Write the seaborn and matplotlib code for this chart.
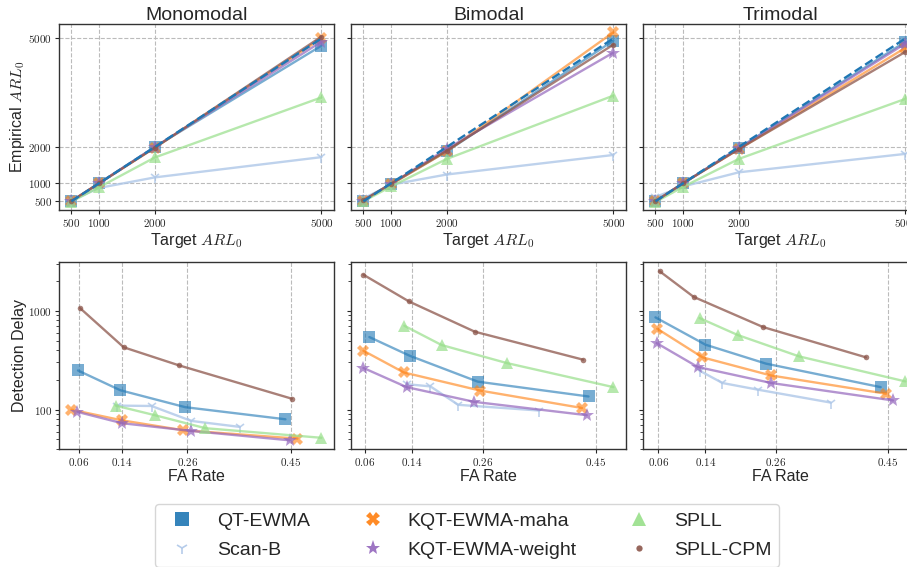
import pandas as pd
import seaborn as sns
import matplotlib.pyplot as plt
from matplotlib.lines import Line2D
from matplotlib.ticker import FixedLocator, FuncFormatter, NullFormatter

sns.set_style('ticks')
plt.rcParams['font.family'] = ['Liberation Sans', 'DejaVu Sans']
plt.rcParams['mathtext.fontset'] = 'cm'

methods = ['QT-EWMA', 'Scan-B', 'KQT-EWMA-maha', 'KQT-EWMA-weight', 'SPLL', 'SPLL-CPM']
panels = ['Monomodal', 'Bimodal', 'Trimodal']
arl_targets = [500, 1000, 2000, 5000]

# empirical ARL0 per panel, one list per method (same order as methods)
mono_arl = [[500, 1000, 2000, 4800], [520, 870, 1160, 1720], [500, 1000, 1980, 5000],
            [500, 1000, 2000, 4910], [490, 890, 1710, 3370], [510, 1000, 1980, 5050]]
bi_arl = [[520, 980, 1880, 4940], [580, 960, 1240, 1780], [520, 970, 1880, 5170],
          [520, 980, 1950, 4610], [500, 910, 1670, 3420], [530, 990, 1900, 4830]]
tri_arl = [[510, 1000, 1970, 4910], [620, 910, 1300, 1810], [500, 1000, 1940, 4740],
           [500, 1000, 1960, 4860], [480, 900, 1670, 3330], [500, 1000, 1940, 4630]]

# false alarm rate and detection delay
mono_fa = [[0.059, 0.137, 0.256, 0.440], [0.130, 0.194, 0.267, 0.356], [0.047, 0.140, 0.252, 0.462],
           [0.058, 0.140, 0.267, 0.448], [0.128, 0.200, 0.293, 0.506], [0.063, 0.143, 0.244, 0.452]]
mono_delay = [[249, 157, 106, 80], [110, 109, 77, 67], [100, 78, 62, 51],
              [95, 73, 61, 49], [110, 88, 65, 52], [1060, 427, 281, 129]]
bi_fa = [[0.068, 0.136, 0.251, 0.438], [0.131, 0.171, 0.218, 0.355], [0.058, 0.126, 0.255, 0.427],
         [0.058, 0.131, 0.245, 0.435], [0.127, 0.190, 0.300, 0.480], [0.058, 0.135, 0.246, 0.429]]
bi_delay = [[542, 351, 192, 136], [181, 172, 112, 98], [394, 238, 156, 104],
            [264, 169, 120, 88], [705, 450, 296, 169], [2310, 1240, 614, 320]]
tri_fa = [[0.055, 0.140, 0.243, 0.438], [0.130, 0.169, 0.230, 0.353], [0.058, 0.135, 0.251, 0.447],
          [0.057, 0.127, 0.252, 0.459], [0.130, 0.195, 0.299, 0.480], [0.062, 0.120, 0.238, 0.413]]
tri_delay = [[857, 454, 292, 169], [248, 186, 159, 118], [658, 338, 222, 145],
             [471, 270, 186, 124], [843, 568, 346, 193], [2510, 1380, 684, 338]]

fa_ticks = [0.06, 0.14, 0.26, 0.45]

colors = {'QT-EWMA': '#1f77b4', 'Scan-B': '#aec7e8', 'KQT-EWMA-maha': '#ff7f0e',
          'KQT-EWMA-weight': '#9467bd', 'SPLL': '#98df8a', 'SPLL-CPM': '#8c564b'}
markers = {'QT-EWMA': 's', 'Scan-B': '1', 'KQT-EWMA-maha': 'X',
           'KQT-EWMA-weight': '*', 'SPLL': '^', 'SPLL-CPM': '.'}
msizes = {'QT-EWMA': 9, 'Scan-B': 8, 'KQT-EWMA-maha': 9,
          'KQT-EWMA-weight': 10, 'SPLL': 9, 'SPLL-CPM': 8}
alphas = {'QT-EWMA': 0.6, 'Scan-B': 0.8, 'KQT-EWMA-maha': 0.6,
          'KQT-EWMA-weight': 0.7, 'SPLL': 0.7, 'SPLL-CPM': 0.75}


def marker_kws(m):
    # the tri marker is drawn only by its edge
    if m == 'Scan-B':
        return dict(markeredgewidth=1.2, markeredgecolor=colors[m])
    return dict(markeredgewidth=0)


top_rows = []
for panel, arl in zip(panels, [mono_arl, bi_arl, tri_arl]):
    for m, vals in zip(methods, arl):
        for t, v in zip(arl_targets, vals):
            top_rows.append({'panel': panel, 'method': m, 'target': t, 'empirical': v})
top_df = pd.DataFrame(top_rows)

bot_rows = []
for panel, fas, delays in zip(panels, [mono_fa, bi_fa, tri_fa], [mono_delay, bi_delay, tri_delay]):
    for m, f, d in zip(methods, fas, delays):
        for a, b in zip(f, d):
            bot_rows.append({'panel': panel, 'method': m, 'fa': a, 'delay': b})
bot_df = pd.DataFrame(bot_rows)

fig, axes = plt.subplots(2, 3, figsize=(9.07, 5.67), dpi=100, sharey='row')
fig.subplots_adjust(left=0.065, right=1.012, top=0.958, bottom=0.208, wspace=0.062, hspace=0.278)

tex = FuncFormatter(lambda v, p: f'${v:g}$')
tex2 = FuncFormatter(lambda v, p: f'${v:.2f}$')

for j, panel in enumerate(panels):
    ax = axes[0, j]
    sub = top_df[top_df['panel'] == panel]
    for m in methods:
        sns.lineplot(data=sub[sub['method'] == m], x='target', y='empirical', ax=ax,
                     color=colors[m], marker=markers[m], markersize=msizes[m],
                     alpha=alphas[m], linewidth=1.7, sort=False, **marker_kws(m))
    ax.plot(arl_targets, arl_targets, ls='--', color='#1f77b4', lw=1.7, zorder=5)
    ax.set_title(panel, fontsize=14, pad=3)
    ax.set_xlabel('Target $ARL_0$', fontsize=11.5, labelpad=1)
    ax.set_ylabel('Empirical $ARL_0$' if j == 0 else '', fontsize=11.5, labelpad=1)
    ax.set_xticks(arl_targets)
    ax.set_yticks(arl_targets)
    ax.xaxis.set_major_formatter(tex)
    ax.yaxis.set_major_formatter(tex)
    ax.grid(True, ls='--', color='#bbbbbb', lw=0.8)

    ax = axes[1, j]
    sub = bot_df[bot_df['panel'] == panel]
    for m in methods:
        sns.lineplot(data=sub[sub['method'] == m], x='fa', y='delay', ax=ax,
                     color=colors[m], marker=markers[m], markersize=msizes[m],
                     alpha=alphas[m], linewidth=1.7, sort=False, **marker_kws(m))
    ax.set_yscale('log')
    ax.set_ylim(40, 3080)
    ax.set_xlabel('FA Rate', fontsize=11.5, labelpad=1)
    ax.set_ylabel('Detection Delay' if j == 0 else '', fontsize=11.5, labelpad=1)
    ax.set_xticks(fa_ticks)
    ax.xaxis.set_major_formatter(tex2)
    ax.yaxis.set_major_locator(FixedLocator([100, 1000]))
    ax.yaxis.set_major_formatter(tex)
    ax.yaxis.set_minor_formatter(NullFormatter())
    ax.grid(True, axis='x', ls='--', color='#bbbbbb', lw=0.8)

for ax in axes.flat:
    ax.tick_params(labelsize=8, length=3, pad=2)
    for s in ax.spines.values():
        s.set_color('#333333')
        s.set_linewidth(1.0)
    if ax not in axes[:, 0]:
        ax.tick_params(labelleft=False)

handles = [Line2D([], [], ls='none', marker=markers[m], color=colors[m],
                  markersize=msizes[m] + 1, alpha=0.9, **marker_kws(m)) for m in methods]
fig.legend(handles, methods, ncol=3, loc='upper center', bbox_to_anchor=(0.515, 0.128),
           fontsize=14, frameon=True, handlelength=2.0, handletextpad=0.8,
           columnspacing=2.2, labelspacing=0.6, edgecolor='#cccccc')

fig.savefig('out.png', dpi=100)
